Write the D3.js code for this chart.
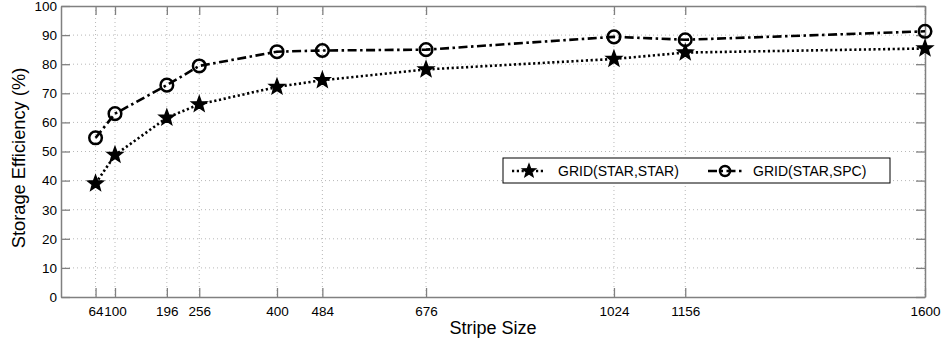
<!DOCTYPE html>
<html>
<head>
<meta charset="utf-8">
<script src="https://cdn.jsdelivr.net/npm/d3@7"></script>
<style>
  body { margin: 0; background: #fff; }
  text { font-family: 'Liberation Sans', Arial, sans-serif; fill: #000; }
</style>
</head>
<body>
<div id="chart"></div>
<script>
const stripeSizes = [64, 100, 196, 256, 400, 484, 676, 1024, 1156, 1600];
const starStar = [39, 48.8, 61.6, 66.2, 72.2, 74.5, 78.2, 81.8, 84, 85.4];
const starSpc = [54.7, 63, 72.8, 79.4, 84.3, 84.7, 85, 89.4, 88.4, 91.3];
const yTicks = [0, 10, 20, 30, 40, 50, 60, 70, 80, 90, 100];
const seriesNames = ['GRID(STAR,STAR)', 'GRID(STAR,SPC)'];

const W = 943, H = 343;
const margin = { left: 61, right: 18, top: 6, bottom: 46 };
const iw = W - margin.left - margin.right;
const ih = H - margin.top - margin.bottom;

const svg = d3.select('#chart').append('svg')
  .attr('width', W).attr('height', H);
const g = svg.append('g').attr('transform', `translate(${margin.left},${margin.top})`);

const x = d3.scaleLinear().domain([0, 1600]).range([0, iw]);
const y = d3.scaleLinear().domain([0, 100]).range([ih, 0]);

const axisCol = '#808080';
const gridCol = '#b8b8b8';
const tickLen = 9;

// grid
g.selectAll('.ygrid').data(yTicks.slice(1, -1)).enter().append('line')
  .attr('x1', 0).attr('x2', iw)
  .attr('y1', d => y(d)).attr('y2', d => y(d))
  .attr('stroke', gridCol).attr('stroke-width', 1).attr('stroke-dasharray', '1,3');
g.selectAll('.xgrid').data(stripeSizes).enter().append('line')
  .attr('x1', d => x(d)).attr('x2', d => x(d))
  .attr('y1', 0).attr('y2', ih)
  .attr('stroke', gridCol).attr('stroke-width', 1).attr('stroke-dasharray', '1,3');

// axes
const fmt = d3.format('d');
const xAxis = g.append('g').attr('transform', `translate(0,${ih})`)
  .call(d3.axisBottom(x).tickValues(stripeSizes).tickFormat(fmt).tickSizeInner(-tickLen).tickSizeOuter(0).tickPadding(9));
const yAxis = g.append('g')
  .call(d3.axisLeft(y).tickValues(yTicks).tickFormat(fmt).tickSizeInner(-tickLen).tickSizeOuter(0).tickPadding(4));
const xTop = g.append('g')
  .call(d3.axisTop(x).tickValues(stripeSizes).tickSizeInner(-tickLen).tickSizeOuter(0).tickFormat(''));
const yRight = g.append('g').attr('transform', `translate(${iw},0)`)
  .call(d3.axisRight(y).tickValues(yTicks).tickSizeInner(-tickLen).tickSizeOuter(0).tickFormat(''));

[xAxis, yAxis, xTop, yRight].forEach(a => {
  a.select('.domain').attr('stroke', axisCol).attr('stroke-width', 1.5);
  a.selectAll('.tick line').attr('stroke', axisCol).attr('stroke-width', 1.3);
  a.selectAll('.tick text').attr('fill', '#000')
    .style('font-size', '13.5px').style('font-family', "'Liberation Sans', Arial, sans-serif");
});

// lines
const pts1 = stripeSizes.map((s, i) => [x(s), y(starStar[i])]);
const pts2 = stripeSizes.map((s, i) => [x(s), y(starSpc[i])]);
const line = d3.line();

g.append('path').attr('d', line(pts1)).attr('fill', 'none')
  .attr('stroke', '#000').attr('stroke-width', 2.6).attr('stroke-dasharray', '2.2,2.6');
g.append('path').attr('d', line(pts2)).attr('fill', 'none')
  .attr('stroke', '#000').attr('stroke-width', 2.6).attr('stroke-dasharray', '9,3.5,2.5,3.5');

function starPath(r) {
  const p = [];
  for (let k = 0; k < 10; k++) {
    const rr = k % 2 === 0 ? r : r * 0.42;
    const a = -Math.PI / 2 + k * Math.PI / 5;
    p.push([rr * Math.cos(a), rr * Math.sin(a)]);
  }
  return 'M' + p.map(q => q.join(',')).join('L') + 'Z';
}

g.selectAll('.star').data(pts1).enter().append('path')
  .attr('d', starPath(8))
  .attr('transform', d => `translate(${d[0]},${d[1]})`)
  .attr('fill', '#000').attr('stroke', '#000').attr('stroke-width', 1.5).attr('stroke-linejoin', 'miter');
g.selectAll('.circ').data(pts2).enter().append('circle')
  .attr('cx', d => d[0]).attr('cy', d => d[1]).attr('r', 6.3)
  .attr('fill', 'none').attr('stroke', '#000').attr('stroke-width', 2.5);

// legend
const lg = svg.append('g').attr('transform', 'translate(503,158)');
lg.append('rect').attr('width', 387).attr('height', 25)
  .attr('fill', '#fff').attr('stroke', '#000').attr('stroke-width', 1);
lg.append('line').attr('x1', 9).attr('x2', 40).attr('y1', 13).attr('y2', 13)
  .attr('stroke', '#000').attr('stroke-width', 2.6).attr('stroke-dasharray', '2.2,2.6');
lg.append('path').attr('d', starPath(7)).attr('transform', 'translate(26,13)')
  .attr('fill', '#000').attr('stroke', '#000').attr('stroke-width', 1.2);
lg.append('text').attr('x', 55).attr('y', 18).style('font-size', '14px').text(seriesNames[0]);
lg.append('line').attr('x1', 205).attr('x2', 240).attr('y1', 13).attr('y2', 13)
  .attr('stroke', '#000').attr('stroke-width', 2.6).attr('stroke-dasharray', '9,3.5,2.5,3.5');
lg.append('circle').attr('cx', 222).attr('cy', 13).attr('r', 5)
  .attr('fill', 'none').attr('stroke', '#000').attr('stroke-width', 2.5);
lg.append('text').attr('x', 250).attr('y', 18).style('font-size', '14px').text(seriesNames[1]);

// axis labels
svg.append('text').attr('x', margin.left + iw / 2).attr('y', 334)
  .attr('text-anchor', 'middle').style('font-size', '18px').text('Stripe Size');
svg.append('text').attr('transform', `translate(25,158) rotate(-90)`)
  .attr('text-anchor', 'middle').style('font-size', '18.3px').text('Storage Efficiency (%)');
</script>
</body>
</html>
